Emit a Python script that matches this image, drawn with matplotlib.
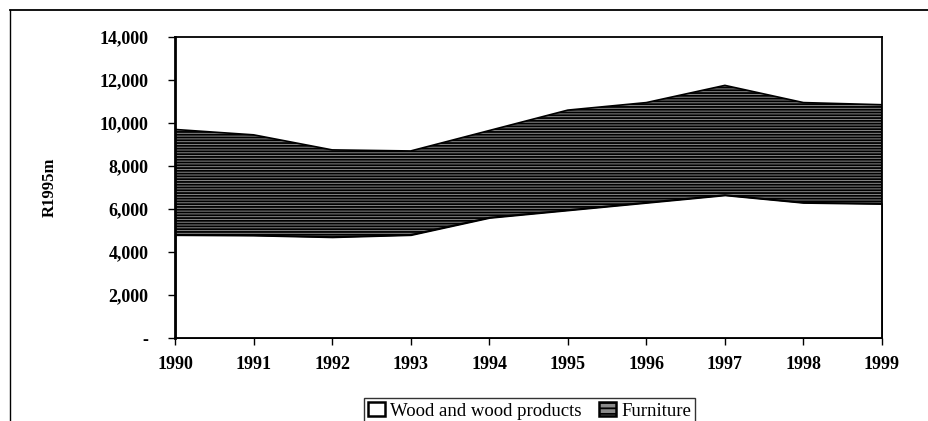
import matplotlib
matplotlib.use("Agg")
import matplotlib.pyplot as plt
from matplotlib.lines import Line2D
from matplotlib.patches import Patch

plt.rcParams['font.family'] = ['Liberation Serif', 'DejaVu Serif']
plt.rcParams['hatch.linewidth'] = 1.3

years = [1990, 1991, 1992, 1993, 1994, 1995, 1996, 1997, 1998, 1999]
wood = [4800, 4780, 4700, 4800, 5600, 5950, 6300, 6650, 6300, 6250]
furniture = [4900, 4670, 4050, 3900, 4050, 4650, 4650, 5100, 4650, 4600]
series_names = ["Wood and wood products", "Furniture"]
y_ticks = [0, 2000, 4000, 6000, 8000, 10000, 12000, 14000]
y_labels = ["-", "2,000", "4,000", "6,000", "8,000", "10,000", "12,000", "14,000"]

FURN = "#8a8a8a"

fig = plt.figure(figsize=(9.29, 4.21), dpi=100)
ax = fig.add_axes([0.1884, 0.1971, 0.7610, 0.7150])

polys = ax.stackplot(years, wood, furniture, colors=["white", FURN],
                     edgecolor="black", linewidth=1.2)
polys[1].set_hatch("------")

ax.set_xlim(years[0], years[-1])
ax.set_ylim(0, 14000)
ax.set_xticks(years)
ax.set_xticklabels([str(y) for y in years], fontsize=13, fontweight='bold')
ax.set_yticks(y_ticks)
ax.set_yticklabels(y_labels, fontsize=13, fontweight='bold')
ax.tick_params(axis='both', direction='out', length=5, width=1.0, colors='black')
ax.tick_params(axis='y', pad=14)
ax.tick_params(axis='x', pad=8)
for s in ax.spines.values():
    s.set_linewidth(1.3)
    s.set_color('black')
ax.spines['left'].set_linewidth(2.0)

ax.set_ylabel("R1995m", fontsize=12, fontweight='bold', labelpad=30)

handles = [Patch(facecolor='white', edgecolor='black', linewidth=1.8),
           Patch(facecolor=FURN, edgecolor='black', hatch='---', linewidth=1.8)]
leg = fig.legend(handles, series_names, loc='center', bbox_to_anchor=(0.570, 0.024),
                 ncol=2, frameon=True, fancybox=False, fontsize=13.5,
                 handlelength=0.9, handleheight=0.8, handletextpad=0.3,
                 columnspacing=0.9, borderpad=0.2, borderaxespad=0)
leg.get_frame().set_edgecolor('black')
leg.get_frame().set_linewidth(1.0)

W, H = 929, 421
fig.add_artist(Line2D([10 / W, 10 / W], [0, 1 - 10 / H], color='black', linewidth=1.0,
                      transform=fig.transFigure))
fig.add_artist(Line2D([10 / W, 1], [1 - 10 / H, 1 - 10 / H], color='black', linewidth=1.3,
                      transform=fig.transFigure))

fig.savefig("out.png", dpi=100)
